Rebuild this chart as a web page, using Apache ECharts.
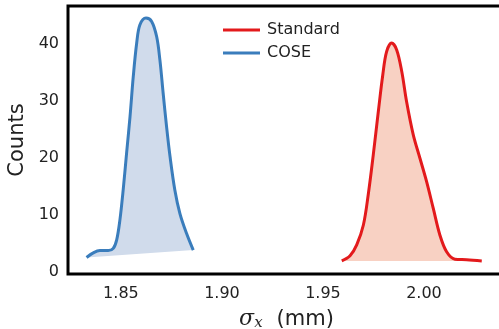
<!DOCTYPE html>
<html>
<head>
<meta charset="utf-8">
<script src="https://cdn.jsdelivr.net/npm/echarts@6/dist/echarts.min.js"></script>
<style>
  html, body { margin: 0; padding: 0; background: #fff; }
  #densityChart { width: 499px; height: 329px; }
</style>
</head>
<body>
<div id="densityChart"></div>
<script>
// x 值 (sigma_x, mm) 与计数
var standardX = [1.9593, 1.9634, 1.9667, 1.9700, 1.9724, 1.9749, 1.9774, 1.9796, 1.9815, 1.9840, 1.9865, 1.9890, 1.9914, 1.9947, 1.9980, 2.0013, 2.0046, 2.0079, 2.0112, 2.0153, 2.0211, 2.0286];
var standardY = [1.9, 2.8, 4.7, 8.2, 13.5, 20.5, 28.1, 34.5, 38.6, 40.1, 38.9, 35.1, 29.8, 24.0, 19.9, 15.8, 11.1, 6.4, 3.5, 2.2, 2.1, 1.9];

var coseX = [1.8330, 1.8363, 1.8396, 1.8437, 1.8462, 1.8479, 1.8495, 1.8511, 1.8528, 1.8545, 1.8561, 1.8578, 1.8594, 1.8624, 1.8652, 1.8677, 1.8693, 1.8709, 1.8726, 1.8743, 1.8767, 1.8792, 1.8825, 1.8858];
var coseY = [2.5, 3.3, 3.7, 3.7, 4.1, 5.6, 9.1, 14.3, 20.8, 27.2, 34.2, 40.1, 43.3, 44.5, 43.9, 41.2, 37.1, 31.3, 25.4, 20.2, 14.3, 10.2, 6.7, 3.8];

var xTicks = [1.85, 1.90, 1.95, 2.00];
var yTicks = [0, 10, 20, 30, 40];

function pairs (xs, ys) {
  return xs.map(function (x, i) { return [x, ys[i]]; });
}

var standardData = pairs(standardX, standardY);
var coseData = pairs(coseX, coseY);

// 填充: 曲线首尾相连的多边形
function fillSeries (data, color) {
  return {
    type: 'custom',
    data: data,
    z: 1,
    silent: true,
    renderItem: function (params, api) {
      if (params.dataIndex !== 0) return null;
      var pts = data.map(function (d) { return api.coord(d); });
      return {
        type: 'polygon',
        shape: { points: pts },
        style: { fill: color }
      };
    }
  };
}

var myChart = echarts.init(document.getElementById('densityChart'));
var option = {
  animation: false,
  grid: {
    left: 68,
    top: 6,
    right: -6,
    bottom: 55,
    outerBoundsMode: 'none',
    containLabel: false,
    show: true,
    borderColor: '#000',
    borderWidth: 3
  },
  legend: {
    data: ['Standard', 'COSE'],
    orient: 'vertical',
    left: 218,
    top: 17,
    icon: 'rect',
    itemWidth: 37,
    itemHeight: 3,
    itemGap: 7,
    textStyle: {
      fontFamily: 'DejaVu Sans',
      fontSize: 16,
      color: '#222',
      padding: [0, 0, 0, 2]
    }
  },
  xAxis: {
    type: 'value',
    min: 1.8238,
    max: 2.0401,
    name: '{s|σ}{sub|x}{t|(mm)}',
    nameLocation: 'middle',
    nameGap: 34,
    nameTextStyle: {
      rich: {
        s: { fontFamily: 'DejaVu Serif', fontStyle: 'italic', fontSize: 22, color: '#222' },
        sub: { fontFamily: 'DejaVu Serif', fontStyle: 'italic', fontSize: 15, color: '#222', padding: [8, 0, 0, 0] },
        t: { fontFamily: 'DejaVu Sans', fontSize: 21, color: '#222', padding: [0, 0, 0, 14] }
      }
    },
    axisLine: { show: false },
    axisTick: { show: false },
    splitLine: { show: false },
    axisLabel: {
      customValues: xTicks,
      margin: 12,
      fontFamily: 'DejaVu Sans',
      fontSize: 16,
      color: '#222',
      formatter: function (v) { return v.toFixed(2); }
    }
  },
  yAxis: {
    type: 'value',
    min: -0.4,
    max: 46.6,
    name: 'Counts',
    nameLocation: 'middle',
    nameGap: 36,
    nameTextStyle: { fontFamily: 'DejaVu Sans', fontSize: 21, color: '#222' },
    axisLine: { show: false },
    axisTick: { show: false },
    splitLine: { show: false },
    axisLabel: {
      customValues: yTicks,
      margin: 9,
      fontFamily: 'DejaVu Sans',
      fontSize: 16,
      color: '#222'
    }
  },
  series: [
    fillSeries(standardData, '#f8d1c3'),
    fillSeries(coseData, '#d0dbeb'),
    {
      name: 'Standard',
      type: 'line',
      data: standardData,
      smooth: 0.35,
      showSymbol: false,
      z: 3,
      itemStyle: { color: '#e31a1c' },
      lineStyle: { color: '#e31a1c', width: 3 }
    },
    {
      name: 'COSE',
      type: 'line',
      data: coseData,
      smooth: 0.35,
      showSymbol: false,
      z: 3,
      itemStyle: { color: '#3a7dbc' },
      lineStyle: { color: '#3a7dbc', width: 3 }
    }
  ]
};
myChart.setOption(option);
</script>
</body>
</html>
